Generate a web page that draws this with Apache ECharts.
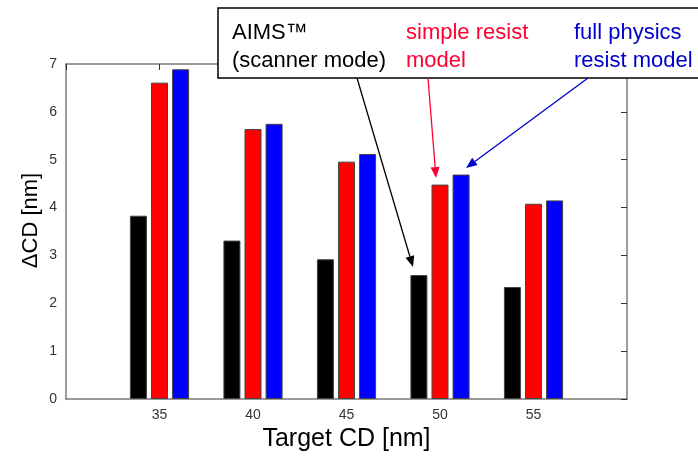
<!DOCTYPE html>
<html>
<head>
<meta charset="utf-8">
<script src="https://cdn.jsdelivr.net/npm/echarts@6/dist/echarts.min.js"></script>
<style>
  html, body { margin: 0; padding: 0; background: #fff; }
  #chart { width: 698px; height: 458px; }
</style>
</head>
<body>
<div id="chart"></div>
<script>
// values
const targetCD = [35, 40, 45, 50, 55];
const aimsScanner = [3.83, 3.31, 2.92, 2.59, 2.34];
const simpleResist = [6.61, 5.64, 4.96, 4.48, 4.08];
const fullPhysics = [6.89, 5.75, 5.12, 4.69, 4.15];

const FONT = '"Liberation Sans", Arial, sans-serif';
const FRAME = '#7a7a7a';

const chart = echarts.init(document.getElementById('chart'));

const toPairs = vals => targetCD.map((x, i) => [x, vals[i]]);

// annotation arrow: line plus filled head
function arrow(x1, y1, x2, y2, color) {
  const a = Math.atan2(y2 - y1, x2 - x1);
  const len = 11, half = 4.5;
  const bx = x2 - len * Math.cos(a), by = y2 - len * Math.sin(a);
  const px = -Math.sin(a) * half, py = Math.cos(a) * half;
  return [
    { type: 'line', z: 100, shape: { x1: x1, y1: y1, x2: bx, y2: by },
      style: { stroke: color, lineWidth: 1.3 } },
    { type: 'polygon', z: 100,
      shape: { points: [[x2, y2], [bx + px, by + py], [bx - px, by - py]] },
      style: { fill: color } }
  ];
}

function label(x, y, txt, color) {
  return { type: 'text', z: 101, x: x, y: y,
    style: { text: txt, fill: color, font: '22px ' + FONT, textVerticalAlign: 'middle' } };
}

const barStyle = color => ({ color: color, borderColor: '#444', borderWidth: 1 });

const frameLine = { show: true, onZero: false, lineStyle: { color: FRAME, width: 1.5 } };

const option = {
  animation: false,
  backgroundColor: '#fff',
  grid: { left: 66, right: 71, top: 64, bottom: 59, containLabel: false, outerBoundsMode: 'none' },
  xAxis: [{
    type: 'value',
    min: 30, max: 60, interval: 5,
    name: 'Target CD [nm]',
    nameLocation: 'middle',
    nameGap: 28,
    nameTextStyle: { fontFamily: FONT, fontSize: 25, color: '#000' },
    axisLine: frameLine,
    axisTick: { show: false },
    splitLine: { show: false },
    axisLabel: {
      fontFamily: FONT, fontSize: 14, color: '#333', margin: 9,
      formatter: v => (targetCD.indexOf(v) >= 0 ? String(v) : '')
    }
  }, {
    type: 'value', position: 'top',
    min: 30, max: 60, interval: 5,
    axisLine: frameLine,
    axisTick: { show: true, inside: true, length: 6, lineStyle: { color: '#333' } },
    axisLabel: { show: false },
    splitLine: { show: false }
  }],
  yAxis: [{
    type: 'value',
    min: 0, max: 7, interval: 1,
    name: 'ΔCD [nm]',
    nameLocation: 'middle',
    nameGap: 24,
    nameMoveOverlap: false,
    nameTextStyle: { fontFamily: FONT, fontSize: 22, color: '#000', padding: [0, 0, 0, 22] },
    axisLine: frameLine,
    axisTick: { show: false },
    splitLine: { show: false },
    axisLabel: { fontFamily: FONT, fontSize: 14, color: '#333', margin: 9 }
  }, {
    type: 'value', position: 'right',
    min: 0, max: 7, interval: 1,
    axisLine: frameLine,
    axisTick: { show: true, inside: true, length: 6, lineStyle: { color: '#333' } },
    axisLabel: { show: false },
    splitLine: { show: false }
  }],
  series: [
    { name: 'AIMS (scanner mode)', type: 'bar', data: toPairs(aimsScanner),
      barWidth: 17, barGap: '24%', itemStyle: barStyle('#000000') },
    { name: 'simple resist model', type: 'bar', data: toPairs(simpleResist),
      barWidth: 17, barGap: '24%', itemStyle: barStyle('#ff0000') },
    { name: 'full physics resist model', type: 'bar', data: toPairs(fullPhysics),
      barWidth: 17, barGap: '24%', itemStyle: barStyle('#0000ff') }
  ],
  graphic: [
    { type: 'rect', z: 99, shape: { x: 218, y: 8, width: 500, height: 70 },
      style: { fill: '#fff', stroke: '#000', lineWidth: 1.5 } },
    label(232, 33, 'AIMS™', '#000'),
    label(232, 61, '(scanner mode)', '#000'),
    label(406, 33, 'simple resist', '#ff0033'),
    label(406, 61, 'model', '#ff0033'),
    label(574, 33, 'full physics', '#0000cc'),
    label(574, 61, 'resist model', '#0000cc'),
    ...arrow(357, 78, 413, 267, '#000'),
    ...arrow(428, 78, 436, 178, '#ff0033'),
    ...arrow(588, 78, 466, 168, '#0000cc')
  ]
};

chart.setOption(option);
</script>
</body>
</html>
